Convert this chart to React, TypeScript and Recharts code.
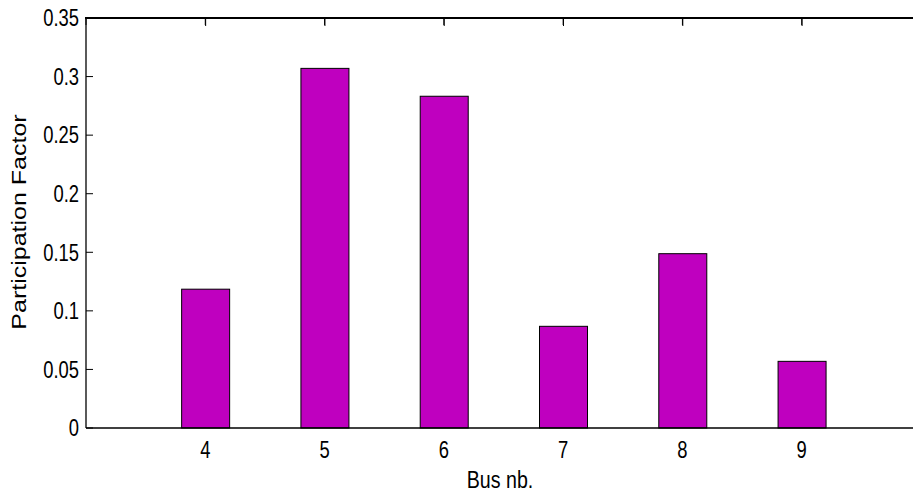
import { BarChart, Bar, XAxis, YAxis, Label, CartesianGrid } from 'recharts'

// bus numbers on the x axis and the participation factor of each bus
const buses = [4, 5, 6, 7, 8, 9]
const factors = [0.1185, 0.307, 0.2832, 0.0868, 0.1488, 0.0569]

const xTicks = [4, 5, 6, 7, 8, 9]
const yTicks = [0, 0.05, 0.1, 0.15, 0.2, 0.25, 0.3, 0.35]

const data = buses.map((bus, i) => ({ bus, factor: factors[i] }))

const FONT = '"Liberation Sans", Arial, Helvetica, sans-serif'
// the source picture is squeezed sideways, so text is narrowed a bit
const SQUEEZE = 0.8
// top of the plot box and width of the y axis column
const TOP = 18
const YAXIS_W = 86

function YTick(props: any) {
  const { x, y, payload } = props
  return (
    <text
      transform={`translate(${x - 7},${y}) scale(${SQUEEZE},1)`}
      textAnchor="end"
      dy="0.36em"
      fontFamily={FONT}
      fontSize={23}
      fill="#000"
    >
      {String(payload.value)}
    </text>
  )
}

function XTick(props: any) {
  const { x, y, payload } = props
  return (
    <text
      transform={`translate(${x},${y + 30}) scale(${SQUEEZE},1)`}
      textAnchor="middle"
      fontFamily={FONT}
      fontSize={23}
      fill="#000"
    >
      {String(payload.value)}
    </text>
  )
}

// bar rectangle plus the matlab-style tick hanging from the top frame
function BarShape(props: any) {
  const { x, y, width, height, fill, background } = props
  const cx = x + width / 2
  return (
    <g>
      <rect x={x} y={y} width={width} height={height} fill={fill} stroke="#000" strokeWidth={1} />
      {background && (
        <line x1={cx} x2={cx} y1={background.y} y2={background.y + 8} stroke="#000" strokeWidth={1} />
      )}
    </g>
  )
}

function XTitle(props: any) {
  const { x, y, width } = props.viewBox
  return (
    <text
      transform={`translate(${x + width / 2 - 3.5},${y + 60}) scale(${SQUEEZE},1)`}
      textAnchor="middle"
      fontFamily={FONT}
      fontSize={24.5}
      fill="#000"
    >
      Bus nb.
    </text>
  )
}

function YTitle(props: any) {
  const { y, height } = props.viewBox
  return (
    <text
      transform={`translate(25.7,${y + height / 2 - 1}) scale(0.78,1) rotate(-90)`}
      textAnchor="middle"
      fontFamily={FONT}
      fontSize={25}
      fill="#000"
    >
      Participation Factor
    </text>
  )
}

export default function App() {
  return (
    <div
      style={{
        position: 'absolute',
        left: 0,
        top: 0,
        width: 913,
        height: 496,
        overflow: 'hidden'
      }}
    >
      <BarChart
        width={921}
        height={496}
        data={data}
        margin={{ top: TOP, right: 0, left: 0, bottom: 0 }}
      >
        {/* short dashes at the start of each grid line = inward ticks */}
        <CartesianGrid stroke="#000" strokeWidth={1} strokeDasharray="7 3000" />
        {/* solid top frame line */}
        <CartesianGrid
          horizontalPoints={[TOP]}
          vertical={false}
          stroke="#000"
          strokeWidth={1.4}
        />
        <XAxis
          dataKey="bus"
          type="number"
          domain={[3, 10]}
          ticks={xTicks}
          height={68}
          tickSize={0}
          tickMargin={0}
          tickLine={false}
          tick={XTick}
          axisLine={{ stroke: '#000', strokeWidth: 1.4 }}
        >
          <Label content={XTitle} />
        </XAxis>
        <YAxis
          type="number"
          domain={[0, 0.35]}
          ticks={yTicks}
          width={YAXIS_W}
          tickSize={0}
          tickMargin={0}
          tickLine={false}
          tick={YTick}
          axisLine={{ stroke: '#000', strokeWidth: 1.3 }}
        >
          <Label content={YTitle} />
        </YAxis>
        <Bar
          dataKey="factor"
          barSize={48}
          fill="#BF00BF"
          shape={BarShape}
          isAnimationActive={false}
        />
      </BarChart>
      {/* fallback for the top frame line of the axes box */}
      <div
        style={{
          position: 'absolute',
          left: YAXIS_W - 1,
          right: 0,
          top: TOP - 1,
          borderTop: '2px solid #000',
          pointerEvents: 'none'
        }}
      />
    </div>
  )
}
